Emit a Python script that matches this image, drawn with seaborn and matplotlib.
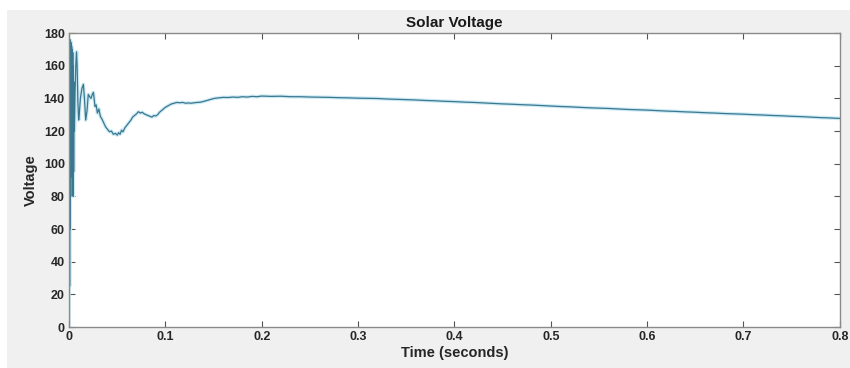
import matplotlib
matplotlib.use("Agg")
import matplotlib.pyplot as plt
from matplotlib.patches import Rectangle
import numpy as np
import pandas as pd
import seaborn as sns

# Solar panel voltage (V) against simulation time (s)
time_s = [
    0.0000, 0.0003, 0.0006, 0.0009, 0.0012, 0.0015, 0.0018, 0.0021, 0.0024,
    0.0027, 0.0030, 0.0033, 0.0036, 0.0039, 0.0042, 0.0045, 0.0048, 0.0051,
    0.0056, 0.0062, 0.0070, 0.0078, 0.0084, 0.0092, 0.0100, 0.0106, 0.0118,
    0.0134, 0.0149, 0.0160, 0.0173, 0.0186, 0.0200, 0.0214, 0.0228, 0.0242,
    0.0253, 0.0262, 0.0270, 0.0282, 0.0294, 0.0310, 0.0325, 0.0340, 0.0360,
    0.0380, 0.0400, 0.0420, 0.0440, 0.0460, 0.0480, 0.0500, 0.0515, 0.0530,
    0.0545, 0.0560, 0.0580, 0.0600, 0.0620, 0.0640, 0.0660, 0.0680, 0.0700,
    0.0720, 0.0740, 0.0760, 0.0780, 0.0800, 0.0820, 0.0840, 0.0860, 0.0880,
    0.0900, 0.0920, 0.0940, 0.0960, 0.0980, 0.1000, 0.1030, 0.1060, 0.1090,
    0.1120, 0.1150, 0.1180, 0.1210, 0.1240, 0.1270, 0.1300, 0.1330, 0.1360,
    0.1390, 0.1420, 0.1450, 0.1480, 0.1510, 0.1540, 0.1570, 0.1600, 0.1650,
    0.1700, 0.1750, 0.1800, 0.1850, 0.1900, 0.1950, 0.2000, 0.2100, 0.2200,
    0.2300, 0.2400, 0.2500, 0.2600, 0.2700, 0.2800, 0.2900, 0.3000, 0.3100,
    0.3200, 0.3300, 0.3400, 0.3500, 0.3600, 0.3700, 0.3800, 0.3900, 0.4000,
    0.4100, 0.4200, 0.4300, 0.4400, 0.4500, 0.4600, 0.4700, 0.4800, 0.4900,
    0.5000, 0.5100, 0.5200, 0.5300, 0.5400, 0.5500, 0.5600, 0.5700, 0.5800,
    0.5900, 0.6000, 0.6100, 0.6200, 0.6300, 0.6400, 0.6500, 0.6600, 0.6700,
    0.6800, 0.6900, 0.7000, 0.7100, 0.7200, 0.7300, 0.7400, 0.7500, 0.7600,
    0.7700, 0.7800, 0.7900, 0.8000,
]
voltage_v = [
    0.0, 176.0, 25.0, 176.0, 60.0, 175.0, 80.0, 174.0, 92.0,
    172.0, 98.0, 170.0, 100.0, 168.0, 80.0, 160.0, 95.0, 150.0,
    120.0, 142.0, 160.0, 168.5, 160.0, 138.0, 126.7, 130.0, 140.0,
    146.0, 148.6, 140.0, 126.7, 132.0, 142.4, 141.0, 140.0, 142.5,
    143.7, 139.0, 134.9, 136.0, 131.0, 133.5, 129.0, 127.5, 125.0,
    122.5, 121.0, 119.5, 120.0, 118.0, 118.6, 117.5, 119.0, 118.0,
    120.5, 119.5, 122.0, 123.5, 125.0, 126.5, 128.5, 129.5, 130.5,
    131.8, 131.0, 131.5, 130.5, 130.0, 129.5, 129.0, 128.5, 129.5,
    129.2, 130.0, 131.5, 132.5, 133.5, 134.5, 135.5, 136.5, 137.0,
    137.5, 137.3, 137.5, 137.0, 137.2, 137.0, 137.3, 137.5, 137.6,
    138.0, 138.5, 139.0, 139.5, 140.0, 140.2, 140.4, 140.6, 140.5,
    140.8, 140.6, 141.0, 140.8, 141.2, 141.0, 141.4, 141.2, 141.3,
    141.0, 141.0, 140.8, 140.7, 140.6, 140.4, 140.3, 140.1, 140.0,
    139.9, 139.6, 139.4, 139.2, 139.0, 138.7, 138.5, 138.2, 138.0,
    137.7, 137.5, 137.2, 136.9, 136.6, 136.4, 136.1, 135.9, 135.6,
    135.3, 135.0, 134.8, 134.5, 134.2, 134.0, 133.8, 133.5, 133.2,
    133.0, 132.8, 132.5, 132.2, 132.0, 131.7, 131.5, 131.2, 131.0,
    130.7, 130.5, 130.3, 130.0, 129.8, 129.5, 129.3, 129.0, 128.8,
    128.5, 128.2, 128.0, 127.7,
]

x_ticks = [0, 0.1, 0.2, 0.3, 0.4, 0.5, 0.6, 0.7, 0.8]
x_tick_labels = ["0", "0.1", "0.2", "0.3", "0.4", "0.5", "0.6", "0.7", "0.8"]
y_ticks = [0, 20, 40, 60, 80, 100, 120, 140, 160, 180]

df = pd.DataFrame({"Time (seconds)": time_s, "Voltage": voltage_v})

sns.set_style("ticks")
plt.rcParams["font.family"] = ["Liberation Sans", "DejaVu Sans"]
plt.rcParams["font.weight"] = "bold"

fig = plt.figure(figsize=(8.5, 3.68), dpi=100, facecolor="#f0f0f0")
# white margins at the top and left of the window
fig.patches.append(Rectangle((0, 0.973), 1, 0.027, transform=fig.transFigure,
                             facecolor="white", edgecolor="none", zorder=0))
fig.patches.append(Rectangle((0, 0), 0.008, 1, transform=fig.transFigure,
                             facecolor="white", edgecolor="none", zorder=0))

ax = fig.add_axes([0.0812, 0.1114, 0.9068, 0.7989])
ax.set_facecolor("white")

# soft halo under the trace, then the trace itself
sns.lineplot(data=df, x="Time (seconds)", y="Voltage", ax=ax, sort=False,
             color="#cdeaf4", linewidth=2.6, estimator=None)
sns.lineplot(data=df, x="Time (seconds)", y="Voltage", ax=ax, sort=False,
             color="#3a7890", linewidth=0.9, estimator=None)

ax.set_xlim(0, 0.8)
ax.set_ylim(0, 180)
ax.set_xticks(x_ticks)
ax.set_xticklabels(x_tick_labels)
ax.set_yticks(y_ticks)

for side in ["top", "right", "bottom", "left"]:
    ax.spines[side].set_visible(True)
    ax.spines[side].set_color("#8a8a8a")
    ax.spines[side].set_linewidth(1.0)

ax.tick_params(axis="both", direction="in", length=4, width=0.8,
               color="#555555", labelsize=9, labelcolor="#262626",
               top=True, right=True, pad=3)
for lbl in ax.get_xticklabels() + ax.get_yticklabels():
    lbl.set_fontweight("bold")

ax.set_xlabel("Time (seconds)", fontsize=10.5, fontweight="bold",
              color="#262626", labelpad=2)
ax.set_ylabel("Voltage", fontsize=10.5, fontweight="bold",
              color="#262626", labelpad=4)
ax.set_title("Solar Voltage", fontsize=11, fontweight="bold",
             color="#1a1a1a", pad=4)

fig.savefig("out.png", dpi=100, facecolor=fig.get_facecolor())
